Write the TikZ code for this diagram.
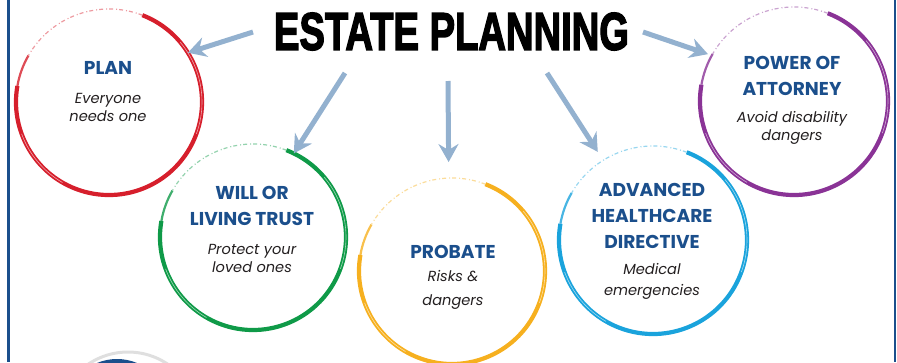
\documentclass[tikz,border=0pt]{standalone}
\usepackage{fontspec}
\usepackage{graphicx}
\setmainfont{Poppins}
\newfontfamily\titlefont{Liberation Sans}[BoldFeatures={FakeBold=3}]
\usetikzlibrary{arrows.meta}

\definecolor{headblue}{HTML}{1B4F8C}
\definecolor{arrowblue}{HTML}{93B1CF}
\definecolor{subgrey}{HTML}{231F20}
\definecolor{ringred}{HTML}{D61F2C}
\definecolor{ringgreen}{HTML}{0F9A48}
\definecolor{ringyellow}{HTML}{F6B01F}
\definecolor{ringcyan}{HTML}{1AA3DC}
\definecolor{ringpurple}{HTML}{8A3396}

% painted ring round a circle node: #1 node, #2 radius, #3 colour
\newcommand\paintring[3]{%
  \draw[line width=4.2pt, #3] (#1.69) arc[start angle=69, end angle=-190, radius=#2];
  \draw[line width=0.6pt, white!60!#3] (#1.40) arc[start angle=40, end angle=-20, radius=#2];
  \draw[line width=0.6pt, white!60!#3] (#1.-120) arc[start angle=-120, end angle=-160, radius=#2];
  \draw[line width=2.2pt, #3!80] (#1.170) arc[start angle=170, end angle=150, radius=#2];
  \draw[line width=1.2pt, #3!45, dash pattern=on 4pt off 2pt on 1pt off 3pt]
    (#1.69) arc[start angle=69, end angle=150, radius=#2];
}

\begin{document}
\begin{tikzpicture}[x=1pt, y=1pt]
  \tikzstyle{ring}=[circle, draw=none, inner sep=0pt, outer sep=0pt]
  \tikzstyle{head}=[text=headblue, align=center, inner sep=0pt,
    font=\fontsize{18.6}{26}\selectfont\bfseries]
  \tikzstyle{sub}=[text=subgrey, align=center, inner sep=0pt,
    font=\fontsize{14.6}{18}\selectfont\itshape]
  \tikzstyle{arrow}=[draw=arrowblue, line width=5pt,
    -{Stealth[length=18pt, width=20pt, inset=6pt]}]

  \useasboundingbox (0,0) rectangle (897,-362);

  % frame
  \draw[headblue, line width=3pt] (8,0) -- (8,-362);
  \draw[headblue, line width=2pt] (895,0) -- (895,-362);

  % cut-off badge at the bottom
  \begin{scope}
    \clip (0,0) rectangle (897,-362);
    \draw[gray!25, line width=3pt] (128,-423) circle (71);
    \fill[headblue] (117,-411) circle (52);
  \end{scope}

  \node (title) at (451.5,-31.5)
    {\resizebox{355pt}{37pt}{\titlefont\bfseries ESTATE PLANNING}};

  \node[ring, minimum size=186pt] (plan)      at (109,-102) {};
  \node[ring, minimum size=186pt] (will)      at (253,-237) {};
  \node[ring, minimum size=186pt] (probate)   at (452,-271) {};
  \node[ring, minimum size=188pt] (directive) at (653,-240) {};
  \node[ring, minimum size=188pt] (attorney)  at (794,-101) {};

  \paintring{plan}{93pt}{ringred}
  \paintring{will}{93pt}{ringgreen}
  \paintring{probate}{93pt}{ringyellow}
  \paintring{directive}{94pt}{ringcyan}
  \paintring{attorney}{94pt}{ringpurple}

  \node[head] (planhead) at (108,-68)  {PLAN};
  \node[sub]  (plansub)  at (108,-107) {Everyone\\needs one};

  \node[head] (willhead) at (252,-206) {WILL OR\\LIVING TRUST};
  \node[sub]  (willsub)  at (252,-258) {Protect your\\loved ones};

  \node[head] (probatehead) at (453,-252) {PROBATE};
  \node[sub]  (probatesub)  at (453,-290) {Risks \&\\[6pt]dangers};

  \node[head] (directivehead) at (652,-216) {ADVANCED\\HEALTHCARE\\DIRECTIVE};
  \node[sub]  (directivesub)  at (652,-281) {Medical\\[3pt]emergencies};

  \node[head] (attorneyhead) at (792,-76)  {POWER OF\\ATTORNEY};
  \node[sub]  (attorneysub)  at (792,-128) {Avoid disability\\dangers};

  \coordinate (tail1) at (253,-32);
  \coordinate (tail2) at (345,-73);
  \coordinate (tail3) at (448,-81);
  \coordinate (tail4) at (547,-73);
  \coordinate (tail5) at (643,-32);

  \path (tail1) edge[arrow] (plan.32);
  \path (tail2) edge[arrow] (will.64);
  \path (tail3) edge[arrow, shorten >=16pt] (probate.92);
  \path (tail4) edge[arrow, shorten >=10pt] (directive.122);
  \path (tail5) edge[arrow, shorten >=4pt] (attorney.151);
\end{tikzpicture}
\end{document}
